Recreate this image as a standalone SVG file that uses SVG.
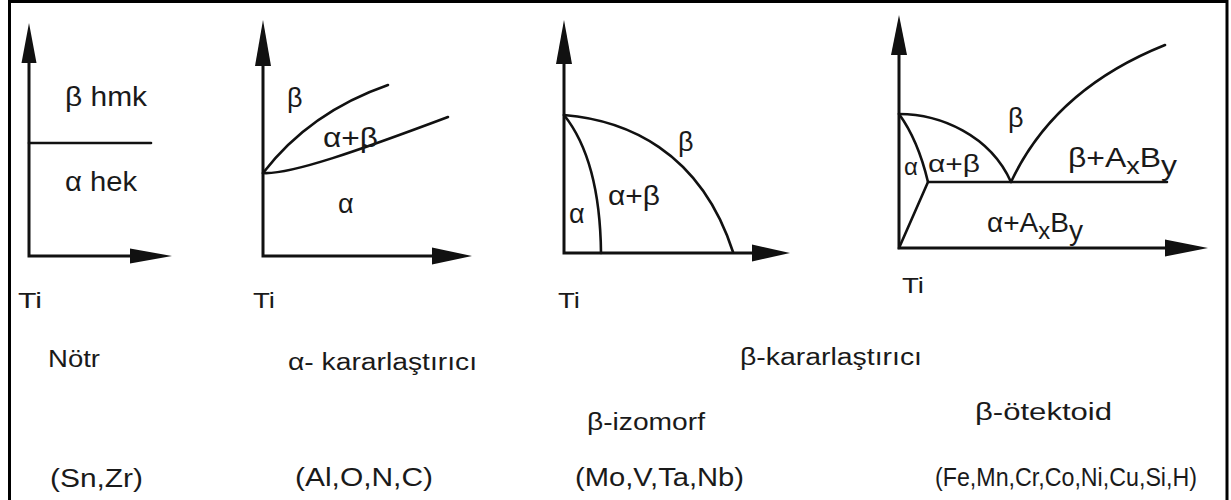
<svg xmlns="http://www.w3.org/2000/svg" width="1231" height="500" viewBox="0 0 1231 500">
<style>
.ax{stroke:#111;stroke-width:3;fill:none;stroke-linecap:butt}
.cv{stroke:#111;stroke-width:2.6;fill:none;stroke-linecap:round}
.ah{fill:#111;stroke:none}
text{font-family:"Liberation Sans",Arial,sans-serif;fill:#1a1a1a}
.lb{font-size:27px}
.sm{font-size:24px}
.ti{font-size:22px}
.cap{font-size:23px}
.el{font-size:25px}
.sub{font-size:23px}
</style>
<rect x="0" y="0" width="1231" height="500" fill="#fff"/>
<path d="M9.5,502 V1.5 H1227 V502" fill="none" stroke="#000" stroke-width="3"/>

<g id="notr">
<g class="connectors">
<path class="ax" d="M29,60 V256 H135"/>
<polygon class="ah" points="29,23 21.5,63 36.5,63"/>
<polygon class="ah" points="172,256 130,248.5 130,263.5"/>
<path class="cv" d="M29,143 H151"/>
</g>
<text class="lb" x="65" y="106" textLength="82" lengthAdjust="spacingAndGlyphs">β hmk</text>
<text class="lb" x="65" y="191" textLength="72" lengthAdjust="spacingAndGlyphs">α hek</text>
<text class="ti" x="18" y="308" textLength="24" lengthAdjust="spacingAndGlyphs">Ti</text>
</g>

<g id="alpha">
<g class="connectors">
<path class="ax" d="M263,62 V256 H436"/>
<polygon class="ah" points="263,20 255,66 271,66"/>
<polygon class="ah" points="472,256 432,247.5 432,264.5"/>
<path class="cv" d="M263,173 Q310,112 388,85"/>
<path class="cv" d="M263,173 C290,175 360,150 448,117"/>
</g>
<text class="lb" x="287" y="107">β</text>
<text class="lb" x="323" y="147" textLength="55" lengthAdjust="spacingAndGlyphs">α+β</text>
<text class="lb" x="338" y="213">α</text>
<text class="ti" x="253" y="308" textLength="22" lengthAdjust="spacingAndGlyphs">Ti</text>
</g>

<g id="izomorf">
<g class="connectors">
<path class="ax" d="M564,60 V253 H760"/>
<polygon class="ah" points="564,20 556,64 572,64"/>
<polygon class="ah" points="790,253 752,244.5 752,261.5"/>
<path class="cv" d="M564,115 Q600,160 601,253"/>
<path class="cv" d="M564,115 C625,120 700,150 733,252"/>
</g>
<text class="lb" x="678" y="151">β</text>
<text class="lb" x="608" y="205" textLength="52" lengthAdjust="spacingAndGlyphs">α+β</text>
<text class="lb" x="569" y="223">α</text>
<text class="ti" x="558" y="308" textLength="22" lengthAdjust="spacingAndGlyphs">Ti</text>
</g>

<g id="otektoid">
<g class="connectors">
<path class="ax" d="M899,52 V248 H1170"/>
<polygon class="ah" points="899,15 891,55 907,55"/>
<polygon class="ah" points="1208,248 1165,239.5 1165,256.5"/>
<path class="cv" d="M899,114 C940,114 990,135 1011,182"/>
<path class="cv" d="M899,114 Q918,140 928,182"/>
<path class="cv" d="M899,248 L928,182 H1167"/>
<path class="cv" d="M1011,182 C1040,120 1090,75 1165,45"/>
</g>
<text class="lb" x="1008" y="127">β</text>
<text class="lb" x="1068" y="167" textLength="109" lengthAdjust="spacingAndGlyphs">β+A<tspan class="sub" dy="7">x</tspan><tspan dy="-7">B</tspan><tspan dy="8">y</tspan></text>
<text class="sm" x="928" y="172" textLength="52" lengthAdjust="spacingAndGlyphs">α+β</text>
<text class="sm" x="904" y="175">α</text>
<text class="lb" x="987" y="232" textLength="96" lengthAdjust="spacingAndGlyphs">α+A<tspan class="sub" dy="7">x</tspan><tspan dy="-7">B</tspan><tspan dy="8">y</tspan></text>
<text class="ti" x="902" y="293" textLength="22" lengthAdjust="spacingAndGlyphs">Ti</text>
</g>

<g id="labels">
<text class="cap" x="48" y="367" textLength="52" lengthAdjust="spacingAndGlyphs">Nötr</text>
<text class="el" x="50" y="487" textLength="93" lengthAdjust="spacingAndGlyphs">(Sn,Zr)</text>
<text class="cap" x="288" y="370" textLength="189" lengthAdjust="spacingAndGlyphs">α- kararlaştırıcı</text>
<text class="el" x="295" y="486" textLength="138" lengthAdjust="spacingAndGlyphs">(Al,O,N,C)</text>
<text class="cap" x="740" y="365" textLength="182" lengthAdjust="spacingAndGlyphs">β-kararlaştırıcı</text>
<text class="cap" x="587" y="430" textLength="118" lengthAdjust="spacingAndGlyphs">β-izomorf</text>
<text class="el" x="575" y="486" textLength="169" lengthAdjust="spacingAndGlyphs">(Mo,V,Ta,Nb)</text>
<text class="cap" x="975" y="420" textLength="137" lengthAdjust="spacingAndGlyphs">β-ötektoid</text>
<text class="el" x="935" y="486" textLength="262" lengthAdjust="spacingAndGlyphs">(Fe,Mn,Cr,Co,Ni,Cu,Si,H)</text>
</g>
</svg>
